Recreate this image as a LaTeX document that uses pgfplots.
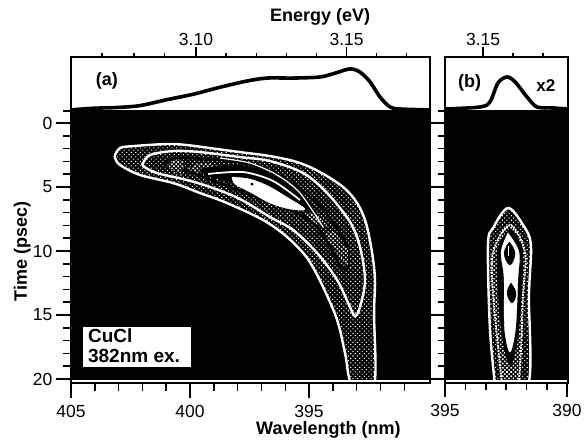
\documentclass[border=0pt]{standalone}
\usepackage{fontspec}
\setmainfont{Liberation Sans}
\usepackage{pgfplots}
\pgfplotsset{compat=1.18}
\usetikzlibrary{patterns.meta}
\pgfplotsset{
  base/.style={scale only axis, tick align=outside, axis line style={black,line width=1.6pt},
    tick style={black,line width=1.5pt},
    tick label style={font=\fontsize{17.5}{18}\selectfont},
    label style={font=\fontsize{18}{19}\selectfont\bfseries},
    /pgf/number format/assume math mode=true, axis on top, x dir=reverse},
  imgaxis/.style={base, ymin=-0.94, ymax=20.31, y dir=reverse, y=12.8pt,
    axis background/.style={fill=black}, xtick pos=bottom, ytick pos=left,
    ytick={0,5,10,15,20}, minor ytick={-0.93,1,2,3,4,6,7,8,9,11,12,13,14,16,17,18,19},
    xticklabel style={yshift=-4pt}},
  specaxis/.style={base, ymin=0, ymax=1, ytick=\empty, xtick pos=top, xticklabel style={yshift=-2pt}},
  spec/.style={black, line width=3.6pt, smooth, tension=0.5},
  A/.style={smooth, tension=0.55, draw=white, line width=2.4pt},
  sparse/.style={pattern={Dots[distance=3.2pt,radius=0.75pt,angle=45]}, pattern color=white},
  dense/.style={pattern={Dots[distance=3pt,radius=1.1pt,angle=45]}, pattern color=white},
}
\pgfplotstableread{
x y
405 0.02
404.08 0.05
403.07 0.065
402.10 0.10
400.97 0.21
399.87 0.31
398.74 0.44
397.61 0.555
396.76 0.61
395.67 0.61
394.54 0.63
393.91 0.70
393.28 0.78
392.86 0.72
392.44 0.54
392.02 0.26
391.60 0.074
391.18 0.037
389.92 0.02
}\specA
\pgfplotstableread{
x y
395 0.037
393.57 0.074
393.16 0.167
392.83 0.52
392.46 0.63
392.13 0.54
391.64 0.26
391.23 0.074
390.57 0.056
389.96 0.037
}\specB
\pgfplotstableread{
x y
403.15 2.50
402.94 1.95
402.39 1.80
400.97 1.64
400.13 1.72
398.87 2.03
397.90 2.27
396.64 2.58
395.50 3.05
394.54 3.83
393.57 5.00
392.98 6.25
392.61 7.81
392.35 10.16
392.23 12.27
392.27 14.84
392.27 20.5
393.19 20.5
393.49 17.97
393.82 15.39
394.45 12.66
395.08 10.55
395.92 8.91
396.93 7.58
398.45 6.25
399.58 5.47
400.71 4.69
402.10 4.06
402.94 3.28
403.15 2.73
403.15 2.50
}\ctA
\pgfplotstableread{
x y
401.97 3.13
401.68 2.50
400.71 2.19
399.58 2.27
397.90 2.66
396.64 2.97
395.25 3.91
394.24 5.47
393.28 7.73
392.86 9.69
392.65 12.27
392.86 14.38
393.07 15.08
393.28 14.38
393.82 12.27
394.66 10.16
395.67 8.36
396.64 7.34
397.90 5.94
399.03 5.08
400.13 4.45
401.39 3.91
401.97 3.36
401.97 3.13
}\ctB
\pgfplotstableread{
x y
401.05 3.20
400.55 2.73
398.74 2.89
397.35 3.28
396.09 4.22
394.83 6.02
393.99 7.73
393.40 9.69
393.36 11.25
393.70 11.09
394.54 8.36
395.50 7.03
396.85 6.02
398.53 4.84
400.00 3.83
401.05 3.20
}\ctC
\pgfplotstableread{
x y
399.58 3.67
398.32 3.36
397.06 3.67
396.01 4.69
395.25 5.86
394.71 7.03
394.96 6.88
395.80 6.41
397.06 5.39
398.32 4.53
399.24 4.06
399.58 3.67
}\ctD
\pgfplotstableread{
x y
398.24 4.22
397.48 4.38
396.72 4.92
396.01 5.70
395.17 6.72
395.80 6.72
396.64 6.25
397.48 5.39
398.11 4.77
398.24 4.22
}\ctE
\pgfplotstableread{
x y
395.17 7.19
394.66 6.95
394.20 8.13
394.66 7.91
395.17 7.19
}\patchA
\pgfplotstableread{
x y
394.41 8.59
393.91 8.52
393.36 9.92
393.36 11.09
393.82 10.16
394.41 8.59
}\patchB
\pgfplotstableread{
x y
400.97 3.28
400.55 2.83
400.21 3.05
400.42 4.06
400.71 3.67
400.97 3.28
}\patchC
\pgfplotstableread{
x y
400.08 3.52
399.58 3.13
398.61 3.36
399.16 3.91
399.79 3.91
400.08 3.52
}\patchD
\pgfplotstableread{
x y
392.95 20.5
393.16 16.02
393.24 9.53
393.03 8.20
392.42 6.64
391.80 7.97
391.48 9.53
391.56 13.44
391.60 20.5
392.95 20.5
}\btA
\pgfplotstableread{
x y
392.66 20.5
393.03 13.44
393.03 10.08
392.34 7.97
391.72 10.08
391.80 13.44
392.01 20.5
392.66 20.5
}\btB
\pgfplotstableread{
x y
392.34 8.28
392.83 9.92
392.79 13.83
392.62 16.95
392.34 18.91
392.05 16.95
391.89 13.83
391.84 9.92
392.34 8.28
}\btC
\pgfplotstableread{
x y
392.42 8.59
392.70 10.08
392.58 12.11
392.56 16.02
392.34 17.89
392.11 16.02
392.01 12.11
391.97 10.08
392.42 8.59
}\btD
\pgfplotstableread{
x y
392.36 9.30
392.13 10.16
392.34 11.09
392.58 10.16
392.36 9.30
}\btH
\pgfplotstableread{
x y
392.30 12.5
392.09 13.28
392.25 14.06
392.46 13.28
392.30 12.5
}\btI
\begin{document}
\begin{tikzpicture}[x=1pt,y=1pt]
\path[use as bounding box] (0,0) rectangle (588,442);
% panel a, spectrum
\begin{axis}[specaxis, at={(71pt,331pt)}, anchor=south west, width=359pt, height=54pt,
  xmin=389.92, xmax=405, xtick={399.75,393.42}, xticklabels={3.10,3.15},
  minor xtick={403.70,402.35,401.07,398.49,397.21,395.95,394.68,392.16,390.90},
  major tick length=10pt, minor tick length=4pt,
  xlabel={Energy (eV)}, xlabel style={at={(axis description cs:0.694,1.74)},anchor=center}]
\addplot[spec] table {\specA};
\node[font=\fontsize{18}{19}\selectfont\bfseries] at (axis description cs:0.1,0.56) {(a)};
\end{axis}
% panel a, map
\begin{axis}[imgaxis, at={(71pt,59pt)}, anchor=south west, width=359pt, height=272pt,
  xmin=389.92, xmax=405, xtick={405,400,395}, xticklabels={405,400,395},
  minor xtick={404,403,402,401,399,398,397,396,394,393,392,391},
  yticklabels={0,5,10,15,20},
  major tick length=15pt, minor tick length=8pt,
  xlabel={Wavelength (nm)}, xlabel style={at={(axis description cs:0.717,-0.173)},anchor=center},
  ylabel={Time (psec)}, ylabel style={at={(axis description cs:-0.136,0.483)},anchor=center}]
\addplot[A, sparse] table {\ctA};
\addplot[smooth, tension=0.55, fill=black, draw=none] table {\ctB};
\addplot[A, sparse] table {\ctB};
\addplot[smooth, tension=0.55, fill=black, draw=black, line width=2.5pt] table {\ctC};
\addplot[smooth, tension=0.55, sparse, draw=black, line width=2.5pt] table {\ctC};
\addplot[fill=black, draw=none] table {\patchA};
\addplot[dense, draw=none] table {\patchA};
\addplot[fill=black, draw=none] table {\patchB};
\addplot[dense, draw=none] table {\patchB};
\addplot[fill=black, draw=none] table {\patchC};
\addplot[dense, draw=none] table {\patchC};
\addplot[fill=black, draw=none] table {\patchD};
\addplot[dense, draw=none] table {\patchD};
\addplot[smooth, tension=0.55, fill=black, draw=black, line width=2.5pt] table {\ctD};
\addplot[smooth, tension=0.55, fill=white, draw=white] table {\ctE};
\addplot[smooth, white, line width=1.8pt] coordinates {(399.24,3.98)(397.77,3.83)(396.51,4.53)(395.38,6.02)};
\addplot[smooth, white, line width=1.2pt] coordinates {(398.74,2.74)(397.48,3.13)(396.34,4.06)(395.38,5.47)(394.41,8.13)};
\addplot[only marks, mark=*, mark size=1.3pt, black] coordinates {(397.40,4.77)};
\addplot[white, line width=1.2pt] coordinates {(405,20.16)(389.92,20.16)};
\node[fill=white, inner sep=0pt, minimum width=108pt, minimum height=40pt, anchor=south west] at (axis cs:404.50,19.06) {};
\node[font=\fontsize{19}{20}\selectfont\bfseries, align=left, anchor=west, inner sep=0pt] at (axis cs:404.29,17.42) {CuCl\\382nm ex.};
\end{axis}
% panel b, spectrum
\begin{axis}[specaxis, at={(445pt,331pt)}, anchor=south west, width=123pt, height=54pt,
  xmin=389.96, xmax=395, xtick={393.44}, xticklabels={3.15},
  minor xtick={392.21,390.98},
  major tick length=10pt, minor tick length=4pt]
\addplot[spec] table {\specB};
\node[font=\fontsize{18}{19}\selectfont\bfseries] at (axis description cs:0.20,0.52) {(b)};
\node[font=\fontsize{17}{18}\selectfont\bfseries] at (axis description cs:0.82,0.48) {x2};
\end{axis}
% panel b, map
\begin{axis}[imgaxis, at={(445pt,59pt)}, anchor=south west, width=123pt, height=272pt,
  xmin=389.96, xmax=395, xtick={395,390}, xticklabels={395,390},
  minor xtick={394.17,393.33,392.5,391.67,390.83},
  yticklabels={}, major tick length=14pt, minor tick length=7pt]
\addplot[A, sparse] table {\btA};
\addplot[smooth, tension=0.55, fill=black, draw=none] table {\btB};
\addplot[smooth, tension=0.55, dense, draw=white, line width=1.8pt, densely dotted] table {\btB};
\addplot[smooth, tension=0.55, fill=black, draw=black, line width=1pt] table {\btC};
\addplot[smooth, tension=0.55, fill=white, draw=white] table {\btD};
\addplot[smooth, tension=0.7, fill=black, draw=black] table {\btH};
\addplot[white, line width=1pt] coordinates {(392.38,9.61)(392.38,10.39)};
\addplot[smooth, tension=0.7, fill=black, draw=black] table {\btI};
\addplot[white, line width=1.2pt] coordinates {(395,20.16)(389.96,20.16)};
\end{axis}
\end{tikzpicture}
\end{document}
